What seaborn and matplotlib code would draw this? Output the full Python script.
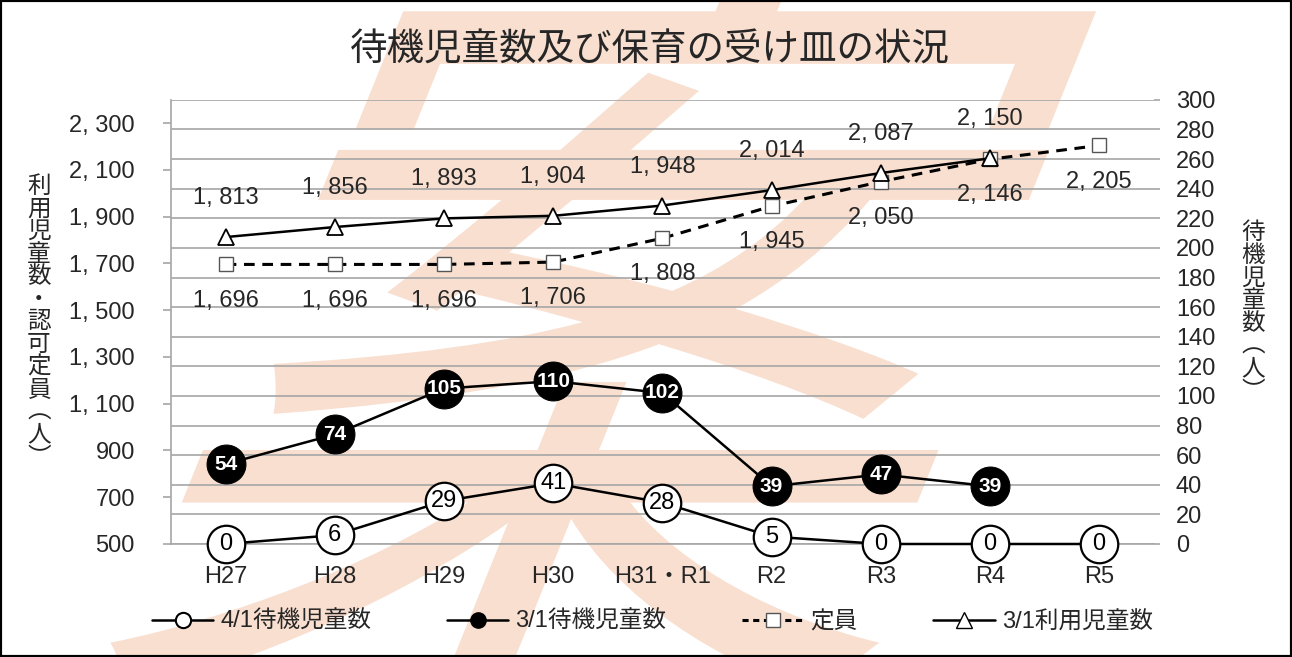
import numpy as np
import pandas as pd
import matplotlib
matplotlib.use("Agg")
import matplotlib.pyplot as plt
import seaborn as sns
from matplotlib.lines import Line2D
from matplotlib.patches import Rectangle, PathPatch
from matplotlib.textpath import TextPath
from matplotlib.font_manager import FontProperties
from matplotlib.transforms import Affine2D

# データ（年度ごと）
years = ["H27", "H28", "H29", "H30", "H31・R1", "R2", "R3", "R4", "R5"]
taiki_0401 = [0, 6, 29, 41, 28, 5, 0, 0, 0]
taiki_0301 = [54, 74, 105, 110, 102, 39, 47, 39, np.nan]
teiin = [1696, 1696, 1696, 1706, 1808, 1945, 2050, 2146, 2205]
riyou_0301 = [1813, 1856, 1893, 1904, 1948, 2014, 2087, 2150, np.nan]

left_ticks = list(range(500, 2301, 200))
right_ticks = list(range(0, 301, 20))

title = "待機児童数及び保育の受け皿の状況"
left_label = "利用児童数・認可定員︵人︶"
right_label = "待機児童数︵人︶"

sns.set_theme(style="white")
FONT = ["Liberation Sans", "Noto Sans CJK JP", "DejaVu Sans"]
plt.rcParams["font.family"] = FONT

GRID = "#A6A6A6"

df = pd.DataFrame({
    "idx": np.arange(len(years)),
    "taiki_0401": taiki_0401,
    "taiki_0301": taiki_0301,
    "teiin": teiin,
    "riyou_0301": riyou_0301,
})


def fmt(v):
    return f"{int(v):,}".replace(",", ", ")


fig = plt.figure(figsize=(12.92, 6.57), dpi=100)
fig.subplots_adjust(left=0.1324, right=0.893, bottom=0.172, top=0.848)
ax = fig.add_subplot(111)
ax2 = ax.twinx()
ax.set_zorder(ax2.get_zorder() + 1)
ax.patch.set_visible(False)
ax2.patch.set_visible(False)

# 背景の「案」の透かし（斜体風）
wm = TextPath((0, 0), "案", size=1, prop=FontProperties(family="Noto Sans CJK JP"))
wm_tf = (Affine2D().translate(-0.5, -0.38).scale(820).skew_deg(22, 0)
         .translate(620, 330))
fig.add_artist(PathPatch(wm, transform=wm_tf, facecolor="#F9DFCF",
                         edgecolor="none", zorder=-5))

# 右軸：待機児童数
sns.lineplot(data=df, x="idx", y="taiki_0401", ax=ax2, color="black", lw=1.8,
             marker="o", markersize=27, markerfacecolor="white",
             markeredgecolor="black", markeredgewidth=1.6, errorbar=None,
             clip_on=False, zorder=3)
sns.lineplot(data=df.dropna(subset=["taiki_0301"]), x="idx", y="taiki_0301", ax=ax2,
             color="black", lw=1.8, marker="o", markersize=28,
             markerfacecolor="black", markeredgecolor="black", errorbar=None,
             clip_on=False, zorder=3)

# 左軸：定員・利用児童数
sns.lineplot(data=df, x="idx", y="teiin", ax=ax, color="black", lw=2.2,
             linestyle=(0, (3.5, 2.5)), marker="s", markersize=10,
             markerfacecolor="white", markeredgecolor="#555555",
             markeredgewidth=1.0, errorbar=None, clip_on=False)
sns.lineplot(data=df.dropna(subset=["riyou_0301"]), x="idx", y="riyou_0301", ax=ax,
             color="black", lw=1.8, marker="^", markersize=12,
             markerfacecolor="white", markeredgecolor="black",
             markeredgewidth=1.3, errorbar=None, clip_on=False)

# ラベル
for i, v in enumerate(taiki_0401):
    ax2.annotate(str(v), (i, v), ha="center", va="center", fontsize=17,
                 color="black", annotation_clip=False, zorder=4)
for i, v in enumerate(taiki_0301):
    if not np.isnan(v):
        ax2.annotate(str(int(v)), (i, v), ha="center", va="center", fontsize=15,
                     color="white", fontweight="bold", annotation_clip=False,
                     zorder=4)
for i, v in enumerate(teiin):
    ax.annotate(fmt(v), (i, v), xytext=(0, -26), textcoords="offset points",
                ha="center", va="center", fontsize=17)
for i, v in enumerate(riyou_0301):
    if not np.isnan(v):
        ax.annotate(fmt(v), (i, v), xytext=(0, 28), textcoords="offset points",
                    ha="center", va="center", fontsize=17)

# 軸設定
ax.set_xlim(-0.5, len(years) - 0.5)
ax.set_ylim(500, 2400)
ax2.set_ylim(0, 300)
ax.set_yticks(left_ticks)
ax.set_yticklabels([fmt(v) for v in left_ticks])
ax2.set_yticks(right_ticks)
ax2.set_yticklabels([str(v) for v in right_ticks])

ax.set_xticks(np.arange(len(years) + 1) - 0.5)
ax.set_xticklabels([])
ax.set_xticks(np.arange(len(years)), minor=True)
ax.set_xticklabels(years, minor=True)
ax.tick_params(axis="x", which="major", direction="out", length=6, color=GRID, width=1.2)
ax.tick_params(axis="x", which="minor", length=0, labelsize=17, pad=16)
ax.tick_params(axis="y", direction="out", length=6, color=GRID, width=1.2,
               labelsize=17, pad=20, left=True)
ax2.tick_params(axis="y", direction="out", length=4, color=GRID, width=1.2,
                labelsize=17, pad=12, right=True)
ax2.tick_params(axis="x", length=0)

ax.set_xlabel("")
ax.set_ylabel("")
ax2.set_xlabel("")
ax2.set_ylabel("")

ax.grid(False)
ax2.grid(False)
ax2.yaxis.grid(True, color=GRID, lw=1.2)

# 下の軸線は右軸側に描き、0の折れ線が隠れないようにする
for s in ["top", "right", "bottom"]:
    ax.spines[s].set_visible(False)
ax.spines["left"].set_color(GRID)
ax.spines["left"].set_linewidth(1.2)
for name, s in ax2.spines.items():
    s.set_visible(name == "bottom")
ax2.spines["bottom"].set_color(GRID)
ax2.spines["bottom"].set_linewidth(1.2)

# タイトル・軸ラベル
fig.text(0.503, 0.924, title, ha="center", va="center", fontsize=27,
         family=["Noto Sans CJK JP"])
fig.text(0.030, 0.51, "\n".join(left_label), ha="center", va="center", fontsize=17,
         linespacing=0.98, family=["Noto Sans CJK JP"])
fig.text(0.970, 0.525, "\n".join(right_label), ha="center", va="center", fontsize=17,
         linespacing=0.98, family=["Noto Sans CJK JP"])

# 凡例
handles = [
    Line2D([], [], color="black", lw=1.8, marker="o", markersize=11,
           markerfacecolor="white", markeredgecolor="black", markeredgewidth=1.5),
    Line2D([], [], color="black", lw=1.8, marker="o", markersize=11,
           markerfacecolor="black"),
    Line2D([], [], color="black", lw=2.2, linestyle=(0, (2, 1.5)), marker="s",
           markersize=10, markerfacecolor="white", markeredgecolor="#555555",
           markeredgewidth=1.0),
    Line2D([], [], color="black", lw=1.8, marker="^", markersize=11,
           markerfacecolor="white", markeredgecolor="black"),
]
labels = ["4/1待機児童数", "3/1待機児童数", "定員", "3/1利用児童数"]
fig.legend(handles, labels, loc="center", bbox_to_anchor=(0.505, 0.053), ncol=4,
           frameon=False, handlelength=2.6, columnspacing=3.2, handletextpad=0.3,
           prop={"size": 17, "family": FONT})

# 外枠
fig.add_artist(Rectangle((0, 0), 1, 1, transform=fig.transFigure, fill=False,
                         lw=3, ec="black", zorder=10))

fig.savefig("out.png", dpi=100)
